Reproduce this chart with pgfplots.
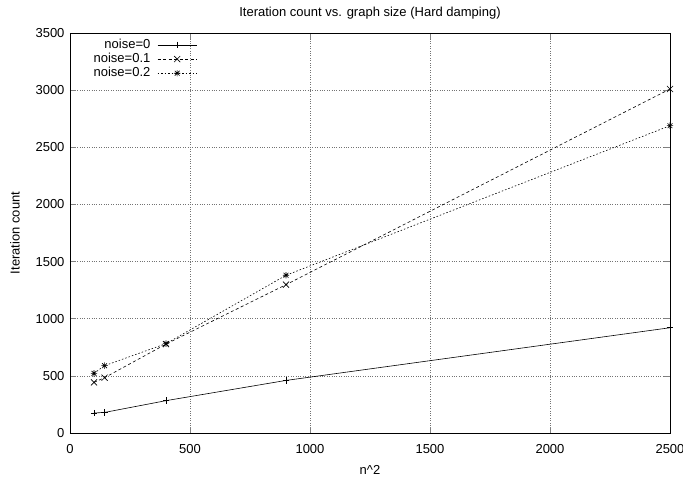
\documentclass[border=0pt]{standalone}
\usepackage{fontspec}
\setmainfont{Liberation Sans}
\usepackage{pgfplots}
\pgfplotsset{compat=1.18}

\newcommand{\gfont}{\fontsize{13}{14}\selectfont}
% gnuplot point type 3: a + and an x on top of each other
\pgfdeclareplotmark{gpstar}{%
  \pgfpathmoveto{\pgfqpoint{-\pgfplotmarksize}{0pt}}%
  \pgfpathlineto{\pgfqpoint{\pgfplotmarksize}{0pt}}%
  \pgfpathmoveto{\pgfqpoint{0pt}{-\pgfplotmarksize}}%
  \pgfpathlineto{\pgfqpoint{0pt}{\pgfplotmarksize}}%
  \pgfpathmoveto{\pgfqpoint{-0.75\pgfplotmarksize}{-0.75\pgfplotmarksize}}%
  \pgfpathlineto{\pgfqpoint{0.75\pgfplotmarksize}{0.75\pgfplotmarksize}}%
  \pgfpathmoveto{\pgfqpoint{-0.75\pgfplotmarksize}{0.75\pgfplotmarksize}}%
  \pgfpathlineto{\pgfqpoint{0.75\pgfplotmarksize}{-0.75\pgfplotmarksize}}%
  \pgfusepathqstroke}

\begin{document}
\gfont
\begin{tikzpicture}
\useasboundingbox (-70pt,-46pt) rectangle (613pt,433pt);
\begin{axis}[scale only axis, width=600pt, height=400pt,
  at={(0pt,0pt)}, anchor=south west,
  xmin=0, xmax=2500, ymin=0, ymax=3500,
  xtick={0,500,...,2500}, ytick={0,500,...,3500},
  tick align=inside, xtick pos=both, ytick pos=both,
  major tick length=6pt, tick style={line width=0.6pt},
  /pgf/number format/assume math mode=true,
  /pgf/number format/1000 sep={},
  tick label style={font=\gfont},
  xticklabel style={yshift=-7pt}, yticklabel style={xshift=-1pt},
  grid=major, grid style={black!55, dash pattern=on 0.8pt off 1.6pt, line width=0.5pt},
  axis line style={black, line width=0.8pt},
  xlabel={n\textasciicircum 2}, ylabel={Iteration count},
  label style={font=\gfont},
  xlabel style={yshift=-3pt}, ylabel style={yshift=7pt},
  title={Iteration count vs. graph size (Hard damping)},
  title style={font=\gfont, yshift=3pt},
  legend plot pos=right, legend cell align=right,
  legend style={draw=none, fill=none, at={(0.217,0.995)}, anchor=north east,
    font=\gfont, row sep=-1.2pt, column sep=5pt},
  legend image code/.code={\draw[mark repeat=2, mark phase=2, #1]
    plot coordinates {(0pt,0pt) (19.5pt,0pt) (39pt,0pt)};},
  every axis plot/.append style={line width=0.6pt, black, mark size=3.2pt,
    mark options={solid, line width=0.6pt}}]
\addplot[mark=+] coordinates
  {(100,175) (144,180) (400,283) (900,460) (2500,921)};
\addlegendentry{noise=0}
\addplot[mark=x, mark size=4.3pt, dash pattern=on 3pt off 2.5pt] coordinates
  {(100,443) (144,484) (400,778) (900,1298) (2500,3010)};
\addlegendentry{noise=0.1}
\addplot[mark=gpstar, dash pattern=on 1.5pt off 2pt] coordinates
  {(100,522) (144,589) (400,782) (900,1380) (2500,2689)};
\addlegendentry{noise=0.2}
\end{axis}
\end{tikzpicture}
\end{document}
